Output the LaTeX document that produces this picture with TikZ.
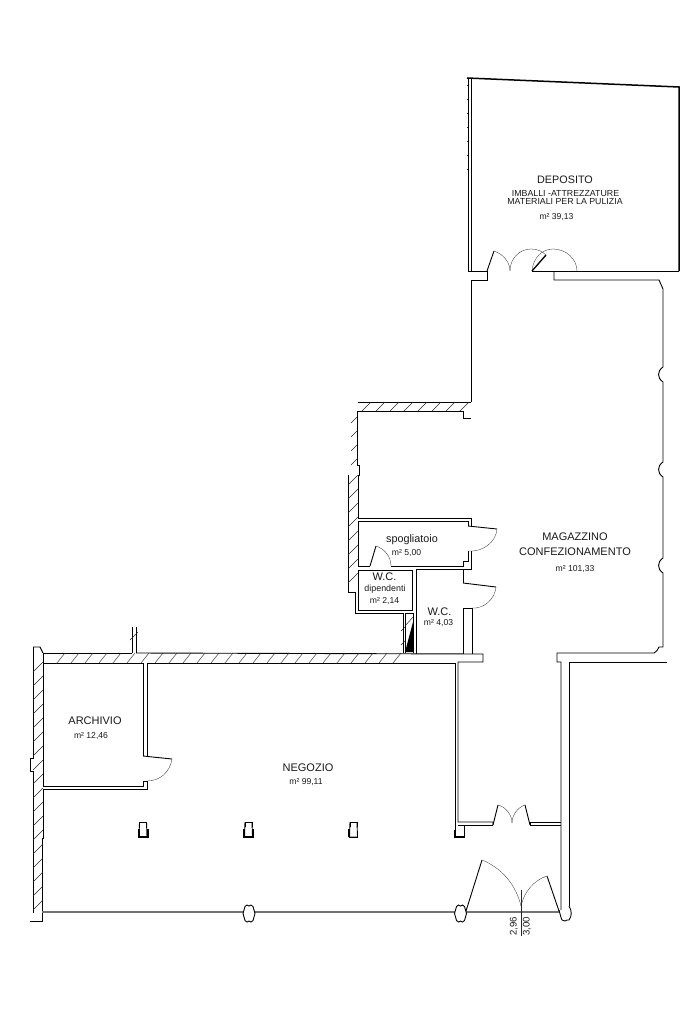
\documentclass[tikz,border=0pt]{standalone}
\usepackage{fontspec}
\setmainfont{Liberation Sans}
\tikzset{
  wall/.style={line width=0.9pt,line join=miter,black},
  heavy/.style={line width=1.5pt,black},
  front/.style={line width=1.4pt,black!55},
  thin/.style={line width=0.3pt,black!85},
  leaf/.style={line width=0.9pt,black},
  hatch/.style={line width=0.45pt,black!85},
  lab/.style={inner sep=0pt,align=center,text=black!90},
}
\newcommand{\fs}[1]{\fontsize{#1}{#1}\selectfont}
\begin{document}
\begin{tikzpicture}[x=1pt,y=-1pt]
\useasboundingbox (0,0) rectangle (683,1024);
\fill[white] (0,0) rectangle (683,1024);

% DEPOSITO
\draw[heavy] (467,78) -- (679,87) -- (679,271);
\draw[wall] (468,78) -- (468,271);
\draw[wall] (471,79) -- (471,271);
\foreach \yy in {85,99,113,127,141,155,169} \draw[hatch] (467,\yy) -- (468,\yy);
\draw[wall] (468,271) -- (487,271) -- (487,280) -- (471,280) -- (471,402);
\draw[wall] (532,271) -- (679,271);
\draw[wall] (554,271) -- (554,280) -- (659,280) -- (663,289) -- (663,367);
\draw[leaf] (487,271) -- (494,251);
\draw[leaf,line width=1.3pt] (532,271) -- (546,255);
\draw[thin] (494,251) .. controls (503,254) and (510,262) .. (510,271);
\draw[thin] (510,271) .. controls (510,258) and (520,249) .. (531,249) .. controls (537,249) and (542,251) .. (546,255);
\draw[thin] (532,271) .. controls (533,258) and (542,249) .. (553,249) .. controls (566,249) and (577,259) .. (577,271);

% east wall with pilasters
\draw[wall] (663,367) .. controls (657,371) and (657,378) .. (663,382) -- (663,462)
  .. controls (657,466) and (657,473) .. (663,477) -- (663,558)
  .. controls (657,562) and (657,569) .. (663,573) -- (663,647) -- (659,647)
  .. controls (658,650) and (656,652) .. (654,653) -- (557,653) -- (557,662) -- (561,662) -- (561,910);
\draw[wall] (569,662) -- (667,662);
\draw[wall] (569,662) -- (569,906);

% north room
\draw[wall] (358,402) -- (471,402);
\draw[wall] (357,465) -- (357,411) -- (463,411) -- (463,418) -- (471,418);
\draw[wall] (357,465) -- (359,465) -- (359,475) -- (358,475) -- (358,518);
\draw[wall] (348,475) -- (348,592) -- (355,592) -- (355,613) -- (403,613) -- (403,653);
\foreach \xx in {362,376,...,460} \draw[hatch] (\xx,411) -- (\xx+9,402);
\foreach \yy in {417,431,445,459} \draw[hatch] (351,\yy+6) -- (357,\yy);
\foreach \yy in {475,489,...,585} \draw[hatch] (348,\yy+10) -- (358,\yy);

% spogliatoio
\draw[wall] (358,518) -- (471,518) -- (471,526);
\draw[wall] (358,566) -- (358,521) -- (468,521) -- (468,526);
\draw[wall] (358,566) -- (370,566);
\draw[wall] (391,566) -- (463,566) -- (463,561) -- (468,561) -- (468,551);
\draw[wall] (471,551) -- (471,569) -- (416,569) -- (416,654);
\draw[leaf] (468,526) -- (497,529);
\draw[thin] (497,529) .. controls (496,542) and (483,552) .. (469,551);
\draw[leaf] (370,566) -- (376,546);
\draw[thin] (376,546) .. controls (385,549) and (391,557) .. (391,566);

% W.C. dipendenti
\draw[wall] (358,570) rectangle (412,610);
% shaft
\draw[wall] (405,613) -- (405,653);
\draw[wall] (405,613) -- (413,613) -- (413,653);
\fill[black] (413,622) -- (413,652) -- (405,652) -- cycle;
\draw[hatch] (401,631) -- (405,627);
\draw[hatch] (401,645) -- (405,641);
\draw[hatch] (405,626) -- (413,617);

% W.C.
\draw[wall] (463,569) -- (463,583);
\draw[wall] (463,608) -- (472,608) -- (472,654);
\draw[wall] (463,608) -- (463,654);
\draw[leaf] (463,583) -- (496,587);
\draw[thin] (496,587) .. controls (495,599) and (484,609) .. (472,608);

% long wall negozio / north
\draw[wall] (33,647) -- (40,647) -- (43,653);
\draw[wall] (43,653) -- (132,653);
\draw[wall] (136,653) -- (483,654) -- (483,662) -- (458,662) -- (458,822) -- (493,822) -- (493,825);
\draw[wall] (43,663) -- (143,663);
\draw[wall] (147,663) -- (455,663) -- (455,825);
\draw[wall] (132,627) -- (132,653);
\draw[wall] (136,627) -- (136,653);
\foreach \xx in {57,71,...,400} \draw[hatch] (\xx,663) -- (\xx+8,653);
\draw[hatch] (130,640) -- (138,632);

% archivio
\draw[wall] (33,647) -- (33,758) -- (30,758) -- (30,771) -- (33,771) -- (33,913);
\draw[wall] (43,653) -- (43,786) -- (143,786) -- (143,781) -- (147,781) -- (147,789) -- (43,789) -- (43,838) -- (42,838) -- (42,921) -- (30,921);
\draw[wall] (143,663) -- (143,756);
\draw[wall] (147,663) -- (147,756);
\draw[leaf] (143,756) -- (172,759);
\draw[thin] (172,759) .. controls (170,772) and (160,781) .. (147,781);
\foreach \yy in {662,676,...,900} \draw[hatch] (33,\yy+10) -- (43,\yy);

% corridor
\draw[wall] (455,825) -- (455,837) -- (464,837) -- (464,825) -- (458,825) -- (493,825);
\draw[line width=1.3pt] (455,830) -- (455,837) -- (464,837);
\draw[wall] (530,822) -- (561,822);
\draw[wall] (530,825) -- (561,825);
\draw[wall] (530,822) -- (530,825);
\draw[leaf] (493,825) -- (498,805);
\draw[leaf] (530,825) -- (525,805);
\draw[thin] (498,805) .. controls (506,807) and (512,815) .. (512,823);
\draw[thin] (525,805) .. controls (518,807) and (512,815) .. (512,823);

% shop front
\draw[front] (42,912) -- (243,912);
\draw[front] (255,912) -- (455,912);
\draw[front] (466,912) -- (559,912);
\foreach \cx/\cy in {249/913.5,460.5/913.5} {
  \draw[wall] (\cx-6,\cy) -- (\cx-4,\cy-7) -- (\cx-2,\cy-8.5) -- (\cx,\cy-7.5) -- (\cx+2,\cy-8.5) -- (\cx+4,\cy-7) -- (\cx+6,\cy)
    -- (\cx+4,\cy+7) -- (\cx+2,\cy+8.5) -- (\cx,\cy+7.5) -- (\cx-2,\cy+8.5) -- (\cx-4,\cy+7) -- cycle;
}
% SE pilaster
\draw[wall] (559,910) .. controls (560,914) and (561,918) .. (562,920) -- (565,921) -- (567,920) -- (569,920) .. controls (572,916) and (572,911) .. (569,906);
% entrance doors
\draw[leaf] (466,911) -- (482,860);
\draw[leaf] (559,911) -- (547,876);
\draw[thin] (482,860) .. controls (502,868) and (516,885) .. (521,906);
\draw[thin] (547,876) .. controls (534,880) and (524,892) .. (521,906);
\draw[thin] (521,890) -- (521,936);

% columns
\foreach \cx in {143,248.5,353.5} {
  \draw[wall] (\cx-3.5,827) -- (\cx-3.5,822) -- (\cx+3.5,822) -- (\cx+3.5,827);
  \draw[wall] (\cx-3.5,822) -- (\cx-4,837) -- (\cx+4,837) -- (\cx+3.5,822);
}
\draw[line width=1.2pt] (139,829) -- (139,837) -- (148,837) -- (148,829);
\draw[line width=1.2pt] (244,829) -- (244,837) -- (253,837) -- (253,829);
\draw[line width=1.2pt] (349,829) -- (349,837);
\draw[wall] (349,837) -- (358,837);

% labels
\node[lab,font=\fs{10.8}] (deposito) at (565,180) {DEPOSITO};
\node[lab,font=\fs{8.8}] (imballi) at (565.5,193.5) {IMBALLI -ATTREZZATURE};
\node[lab,font=\fs{8.8}] (materiali) at (565,202) {MATERIALI PER LA PULIZIA};
\node[lab,font=\fs{8.6}] (mdep) at (556.5,217) {m² 39,13};
\node[lab,font=\fs{11}] (mag) at (575,537) {MAGAZZINO};
\node[lab,font=\fs{11}] (conf) at (575,552) {CONFEZIONAMENTO};
\node[lab,font=\fs{8.6}] (mmag) at (575,569) {m² 101,33};
\node[lab,font=\fs{10.8}] (spo) at (412,540) {spogliatoio};
\node[lab,font=\fs{8.6}] (mspo) at (406.5,553) {m² 5,00};
\node[lab,font=\fs{11}] (wcd) at (384.5,577) {W.C.};
\node[lab,font=\fs{8.9}] (dip) at (385,589) {dipendenti};
\node[lab,font=\fs{8.6}] (mwcd) at (384.5,601) {m² 2,14};
\node[lab,font=\fs{11}] (wc) at (439.5,612) {W.C.};
\node[lab,font=\fs{8.6}] (mwc) at (438.5,623) {m² 4,03};
\node[lab,font=\fs{11}] (arc) at (95,721) {ARCHIVIO};
\node[lab,font=\fs{8.6}] (marc) at (91,736) {m² 12,46};
\node[lab,font=\fs{11}] (neg) at (308,768) {NEGOZIO};
\node[lab,font=\fs{8.6}] (mneg) at (306,782) {m² 99,11};
\node[lab,font=\fs{9.6},rotate=90] (d1) at (514,926) {2,96};
\node[lab,font=\fs{9.6},rotate=90] (d2) at (527,926) {3,00};
\end{tikzpicture}
\end{document}
